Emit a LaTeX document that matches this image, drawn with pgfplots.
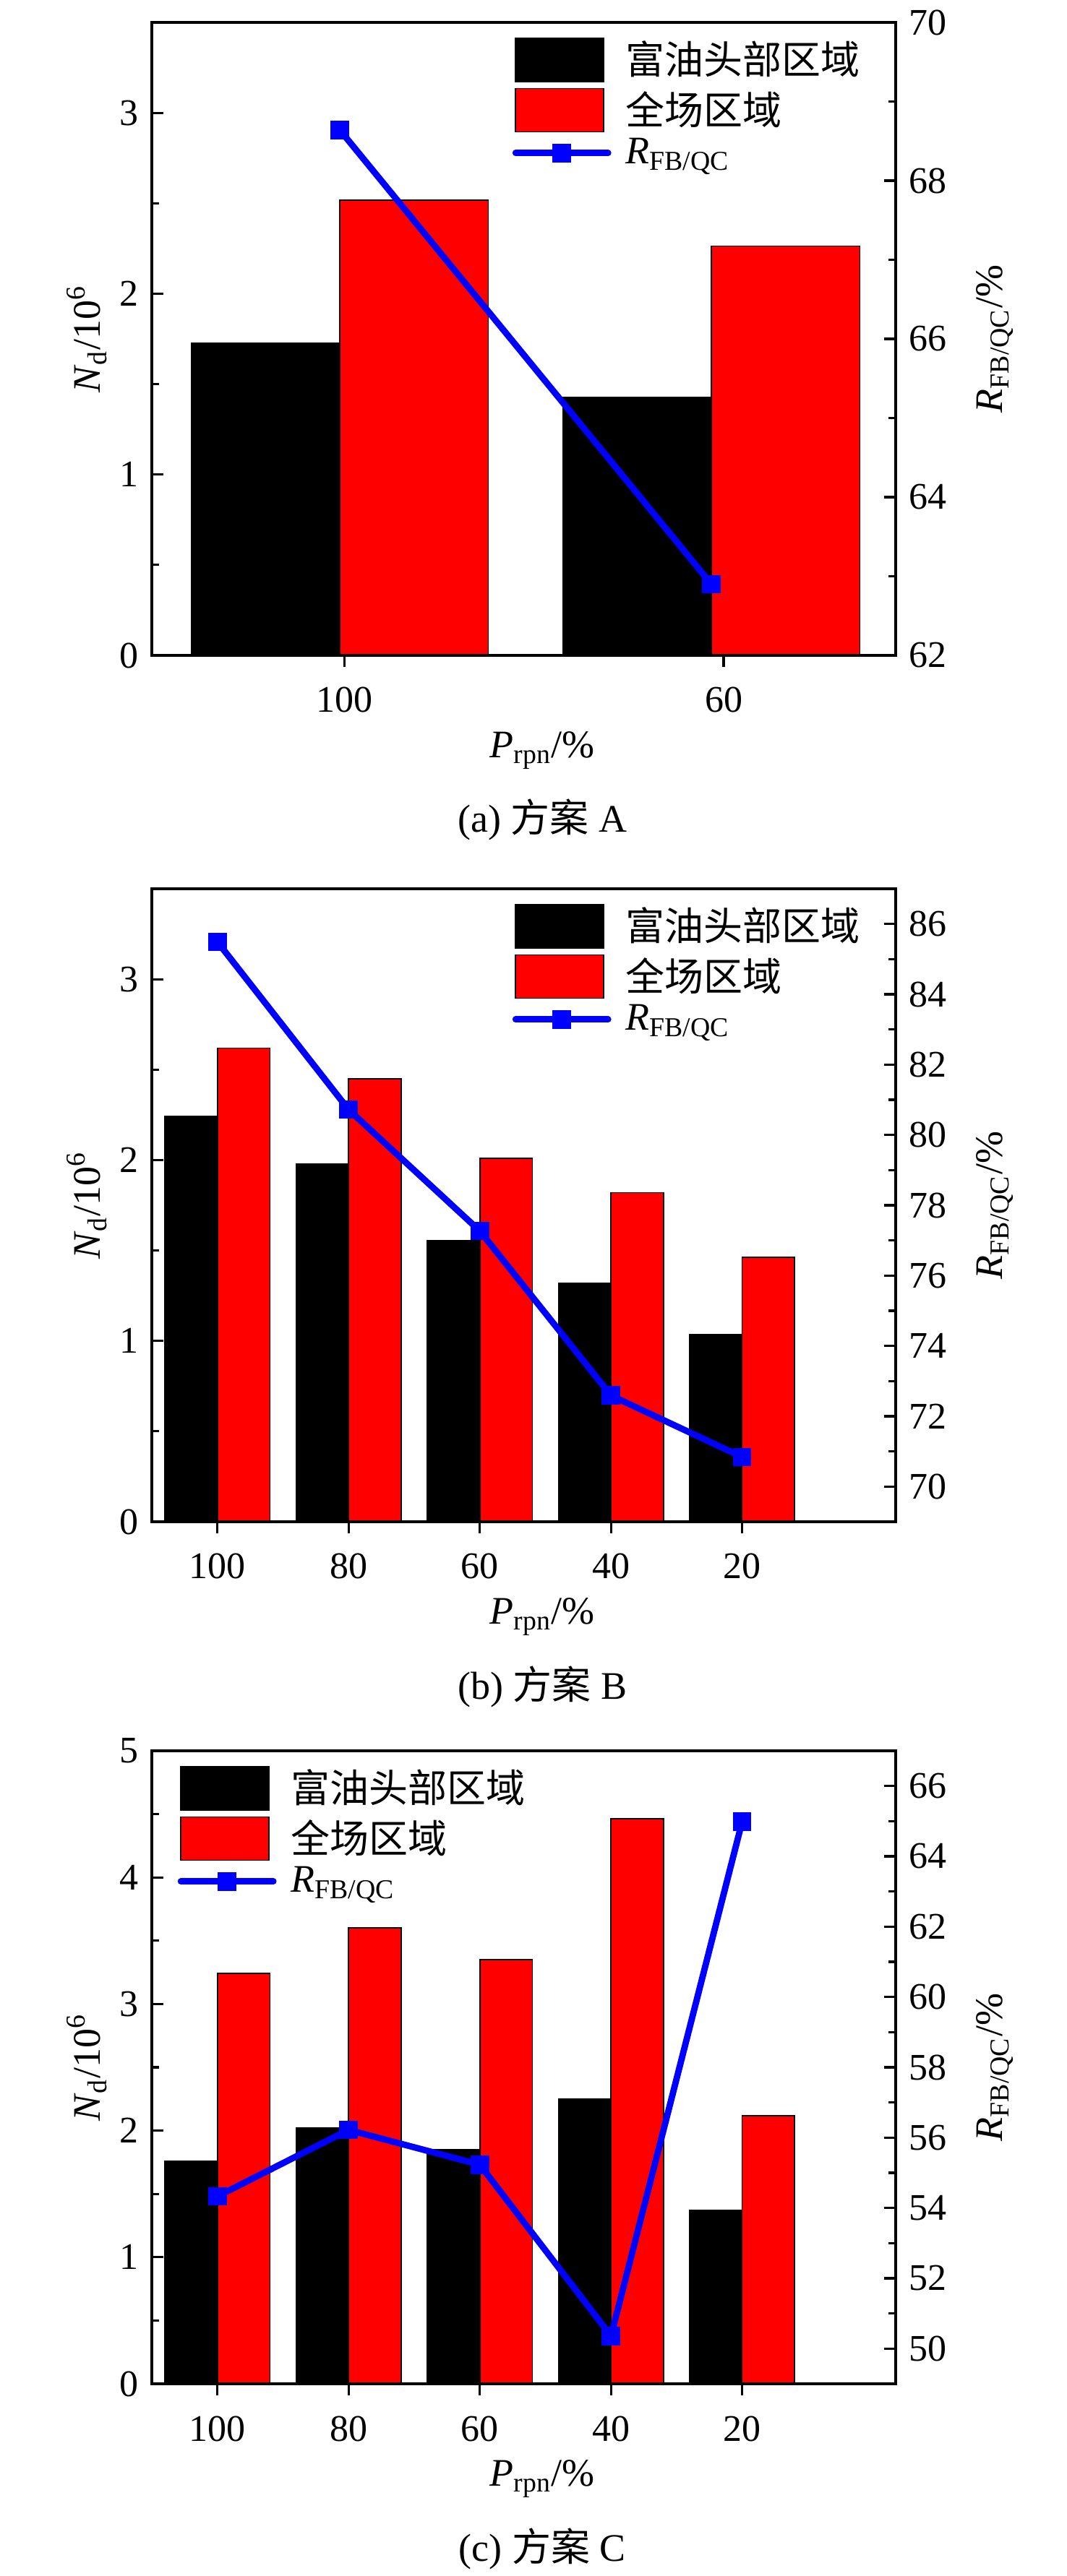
\documentclass[border=0pt]{standalone}
\usepackage{fontspec}
\setmainfont{Liberation Serif}
\newfontfamily\cjk{Noto Sans CJK SC}
\usepackage{pgfplots}
\pgfplotsset{compat=1.18}

\definecolor{myblue}{RGB}{0,0,255}
\definecolor{myred}{RGB}{255,0,0}

\newcommand{\tickfont}{\fontsize{13}{15.6}\selectfont}
\newcommand{\labfont}{\fontsize{13.5}{16}\selectfont}

\pgfplotsset{
  base/.style={
    scale only axis, width=257.25pt, height=219pt,
    tick align=inside, major tick length=4pt, minor tick length=2.5pt,
    every tick/.style={line width=0.8pt, black},
    axis line style={line width=0.8pt, -},
    tick label style={font=\tickfont},
    /pgf/number format/assume math mode=true,
    clip=false,
  },
  leftax/.style={base, xtick pos=left, ytick pos=left, axis on top,
    ybar, bar width=0.4, bar shift=0pt,
    ylabel={\textit{N}\textsubscript{d}/10\textsuperscript{6}},
    every axis y label/.style={at={(axis description cs:-0.0875,0.5)}, anchor=center, rotate=90, font=\labfont},
    xlabel={\textit{P}\textsubscript{rpn}/\%},
    every axis x label/.style={at={(axis description cs:0.525,-0.161)}, anchor=base, font=\labfont},
    xticklabel style={anchor=base, yshift=-15.75pt},
    yticklabel style={xshift=-1.2pt},
    minor y tick num=1,
  },
  rightax/.style={base, axis y line*=right, axis x line=none,
    ylabel={\textit{R}\textsubscript{FB/QC}/\%},
    every axis y label/.style={at={(axis description cs:1.133,0.5)}, anchor=center, rotate=90, font=\labfont},
    yticklabel style={xshift=1.2pt},
    minor y tick num=1, ytick distance=2,
    legend cell align=left,
    legend style={draw=none, fill=none, inner sep=0pt, row sep=2pt, font=\labfont,
      nodes={inner sep=0pt},
      /tikz/every odd column/.append style={column sep=5pt}},
  },
  blackbar/.style={fill=black, draw=black, line width=0.4pt},
  redbar/.style={fill=myred, draw=black, line width=0.4pt},
  lineleg/.style={legend image code/.code={\draw[mark repeat=2, mark phase=2, ##1] plot coordinates {(0pt,0pt) (16pt,0pt) (32pt,0pt)};}},
  rline/.style={color=myblue, line width=2.2pt, line cap=round, mark=square*, mark size=3pt,
    mark options={solid, fill=myblue, draw=myblue, line width=0.4pt}, lineleg},
}

\begin{document}
\begin{tikzpicture}
\path[use as bounding box] (0,0) rectangle (369pt,891.25pt);

% ---------------- (a) ----------------
\begin{axis}[leftax, at={(52.5pt,664.5pt)}, anchor=south west,
  xmin=0.494, xmax=2.496, ymin=0, ymax=3.5, ytick={0,1,2,3},
  xtick={1.012,2.033}, xticklabels={100,60}]
\addplot[blackbar] coordinates {(0.8,1.727) (1.8,1.428)};
\addplot[redbar] coordinates {(1.2,2.516) (2.2,2.264)};
\node[anchor=base, font=\labfont] at (axis description cs:0.525,-0.2797) {(a) {\cjk 方案} A};
\end{axis}
\begin{axis}[rightax, at={(52.5pt,664.5pt)}, anchor=south west,
  xmin=0.494, xmax=2.496, ymin=62, ymax=70,
  legend style={at={(rel axis cs:0.484,0.977)}, anchor=north west}]
\addlegendimage{legend image code/.code={\draw[fill=black, draw=black, line width=0.4pt] (0pt,-7.5pt) rectangle (30.5pt,7.5pt);}}
\addlegendentry{{\cjk 富油头部区域}}
\addlegendimage{legend image code/.code={\draw[fill=myred, draw=black, line width=0.4pt] (0pt,-7.5pt) rectangle (30.5pt,7.5pt);}}
\addlegendentry{{\cjk 全场区域}}
\addplot[rline] coordinates {(1,68.64) (2,62.90)};
\addlegendentry{\textit{R}\textsubscript{FB/QC}}
\end{axis}

% ---------------- (b) ----------------
\begin{axis}[leftax, at={(52.5pt,364.75pt)}, anchor=south west,
  xmin=0.5, xmax=6.17, ymin=0, ymax=3.5, ytick={0,1,2,3},
  xtick={1,2,3,4,5}, xticklabels={100,80,60,40,20}]
\addplot[blackbar] coordinates {(0.8,2.241) (1.8,1.978) (2.8,1.556) (3.8,1.321) (4.8,1.037)};
\addplot[redbar] coordinates {(1.2,2.619) (2.2,2.449) (3.2,2.010) (4.2,1.820) (5.2,1.462)};
\node[anchor=base, font=\labfont] at (axis description cs:0.525,-0.2797) {(b) {\cjk 方案} B};
\end{axis}
\begin{axis}[rightax, at={(52.5pt,364.75pt)}, anchor=south west,
  xmin=0.5, xmax=6.17, ymin=69, ymax=87, ytick={70,72,...,86},
  legend style={at={(rel axis cs:0.484,0.977)}, anchor=north west}]
\addlegendimage{legend image code/.code={\draw[fill=black, draw=black, line width=0.4pt] (0pt,-7.5pt) rectangle (30.5pt,7.5pt);}}
\addlegendentry{{\cjk 富油头部区域}}
\addlegendimage{legend image code/.code={\draw[fill=myred, draw=black, line width=0.4pt] (0pt,-7.5pt) rectangle (30.5pt,7.5pt);}}
\addlegendentry{{\cjk 全场区域}}
\addplot[rline] coordinates {(1,85.49) (2,80.72) (3,77.27) (4,72.59) (5,70.84)};
\addlegendentry{\textit{R}\textsubscript{FB/QC}}
\end{axis}

% ---------------- (c) ----------------
\begin{axis}[leftax, at={(52.5pt,66.5pt)}, anchor=south west,
  xmin=0.5, xmax=6.17, ymin=0, ymax=5, ytick={0,1,2,3,4,5},
  xtick={1,2,3,4,5}, xticklabels={100,80,60,40,20}]
\addplot[blackbar] coordinates {(0.8,1.762) (1.8,2.020) (2.8,1.849) (3.8,2.248) (4.8,1.372)};
\addplot[redbar] coordinates {(1.2,3.243) (2.2,3.602) (3.2,3.352) (4.2,4.465) (5.2,2.117)};
\node[anchor=base, font=\labfont] at (axis description cs:0.525,-0.2797) {(c) {\cjk 方案} C};
\end{axis}
\begin{axis}[rightax, at={(52.5pt,66.5pt)}, anchor=south west,
  xmin=0.5, xmax=6.17, ymin=49, ymax=67, ytick={50,52,...,66},
  legend style={at={(rel axis cs:0.034,0.977)}, anchor=north west}]
\addlegendimage{legend image code/.code={\draw[fill=black, draw=black, line width=0.4pt] (0pt,-7.5pt) rectangle (30.5pt,7.5pt);}}
\addlegendentry{{\cjk 富油头部区域}}
\addlegendimage{legend image code/.code={\draw[fill=myred, draw=black, line width=0.4pt] (0pt,-7.5pt) rectangle (30.5pt,7.5pt);}}
\addlegendentry{{\cjk 全场区域}}
\addplot[rline] coordinates {(1,54.33) (2,56.22) (3,55.23) (4,50.36) (5,64.99)};
\addlegendentry{\textit{R}\textsubscript{FB/QC}}
\end{axis}
\end{tikzpicture}
\end{document}
